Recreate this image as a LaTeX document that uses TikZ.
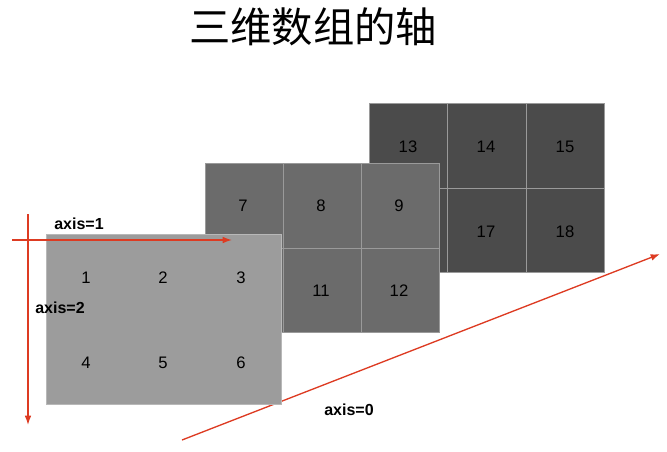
\documentclass[tikz,border=0pt]{standalone}
\usepackage{fontspec}
\setmainfont{Liberation Sans}
\newfontfamily\cjkfont{Noto Sans CJK SC}
\usetikzlibrary{arrows.meta}
\definecolor{backgray}{HTML}{4B4B4B}
\definecolor{midgray}{HTML}{6B6B6B}
\definecolor{frontgray}{HTML}{9C9C9C}
\definecolor{seamgray}{HTML}{9A9A9A}
\definecolor{axisred}{HTML}{DD3B22}

\begin{document}
\begin{tikzpicture}[x=0.75pt,y=0.75pt,yscale=-1,xscale=1,
  num/.style={inner sep=0.75pt,text=black,font=\fontsize{12.5}{14}\selectfont},
  axislabel/.style={inner sep=0.75pt,font=\fontsize{12}{14}\selectfont\bfseries},
  axisarrow/.style={draw=axisred,line width=1pt,-{Latex[length=7pt,width=5pt]}},
  seam/.style={draw=seamgray,line width=0.7pt}]
\useasboundingbox (0,0) rectangle (667,451);

% Title
\node (title) at (313,27) {\cjkfont\fontsize{31}{36}\selectfont 三维数组的轴};

%Shape: back layer
\draw [seam,fill=backgray] (369,103) rectangle (604,272);
\draw [seam] (447,103) -- (447,272) (526,103) -- (526,272) (369,188) -- (604,188);
% Text Node
\node [num] (n13) at (408,147) {13};
\node [num] (n14) at (486,147) {14};
\node [num] (n15) at (565,147) {15};
\node [num] (n17) at (486,232) {17};
\node [num] (n18) at (565,232) {18};

%Shape: middle layer
\draw [seam,fill=midgray] (205,163) rectangle (439,332);
\draw [seam] (283,163) -- (283,332) (361,163) -- (361,332) (205,248) -- (439,248);
% Text Node
\node [num] (n7) at (243,206) {7};
\node [num] (n8) at (321,206) {8};
\node [num] (n9) at (399,206) {9};
\node [num] (n11) at (321,291) {11};
\node [num] (n12) at (399,291) {12};

%Straight Lines: axis 0
\coordinate (ax0start) at (182,440);
\coordinate (ax0end) at (660,254);
\draw [axisarrow] (ax0start) -- (ax0end);

%Shape: front layer
\draw [draw=seamgray!70!white,line width=0.6pt,fill=frontgray] (46,234) rectangle (281,404);
% Text Node
\node [num] (n1) at (86,278) {1};
\node [num] (n2) at (163,278) {2};
\node [num] (n3) at (241,278) {3};
\node [num] (n4) at (86,363) {4};
\node [num] (n5) at (163,363) {5};
\node [num] (n6) at (241,363) {6};

%Straight Lines: axis 1 and axis 2
\coordinate (ax1start) at (12,240);
\coordinate (ax1end) at (232,240);
\draw [axisarrow] (ax1start) -- (ax1end);
\coordinate (ax2start) at (28,214);
\coordinate (ax2end) at (28,425);
\draw [axisarrow] (ax2start) -- (ax2end);

% Text Node
\node [axislabel] (lab1) at (79,224) {axis=1};
\node [axislabel] (lab2) at (60,308) {axis=2};
\node [axislabel] (lab0) at (349,410) {axis=0};

\end{tikzpicture}
\end{document}
